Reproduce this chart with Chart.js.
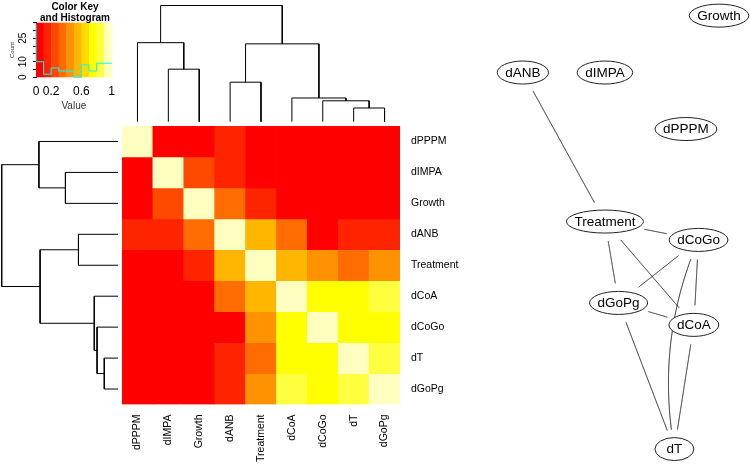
<!DOCTYPE html>
<html><head><meta charset="utf-8">
<script src="https://cdn.jsdelivr.net/npm/chart.js@4.4.0/dist/chart.umd.min.js"></script>
<style>
html,body{margin:0;padding:0;background:#fff;width:750px;height:466px;overflow:hidden;position:relative}
canvas{position:absolute;display:block}
</style></head><body>
<canvas id="key" width="120" height="114" style="left:0;top:0"></canvas>
<canvas id="colDendro" width="298" height="122" style="left:112px;top:0"></canvas>
<canvas id="rowDendro" width="118" height="299" style="left:0;top:116px"></canvas>
<canvas id="heat" width="360" height="340" style="left:122px;top:126px"></canvas>
<canvas id="net" width="270" height="466" style="left:480px;top:0"></canvas>
<script>
// ---------------- DATA ----------------
const variables = ['dPPPM','dIMPA','Growth','dANB','Treatment','dCoA','dCoGo','dT','dGoPg'];
const corrMatrix = [
  [1.00,0.04,0.02,0.13,0.05,0.03,0.06,0.02,0.04],
  [0.04,1.00,0.24,0.16,0.07,0.02,0.05,0.03,0.01],
  [0.02,0.24,1.00,0.35,0.12,0.08,0.06,0.04,0.09],
  [0.13,0.16,0.35,1.00,0.55,0.33,0.08,0.17,0.14],
  [0.05,0.07,0.12,0.55,1.00,0.53,0.44,0.36,0.45],
  [0.03,0.02,0.08,0.33,0.53,1.00,0.76,0.78,0.84],
  [0.06,0.05,0.06,0.08,0.44,0.76,1.00,0.73,0.77],
  [0.02,0.03,0.04,0.17,0.36,0.78,0.73,1.00,0.82],
  [0.04,0.01,0.09,0.14,0.45,0.84,0.77,0.82,1.00]
];
const colorBreaks = [0,0.1,0.2,0.3,0.4,0.5,0.6,0.7,0.8,0.9,1.0];
const heatPalette = ['#FF0000','#FF2400','#FF4900','#FF6D00','#FF9200','#FFB600','#FFDB00','#FFFF00','#FFFF40','#FFFFBF'];
const histCounts = [34,10,2,6,4,4,0,8,4,9];
const keyValueTicks = [0,0.2,0.6,1];
const keyCountTicks = [0,5,10,15,20,25,30,35];
const keyCountLabels = [0,10,25];
// hclust-style merges (negative = leaf index+1 in display order, positive = earlier merge)
const mergePairs = [[-8,-9],[-7,1],[-6,2],[-4,-5],[-2,-3],[4,3],[-1,5],[7,6]];
const mergeHeights = [0.118,0.18,0.204,0.34,0.452,0.67,0.68,1.0];
// network layout (layout units)
const nodeNames = ['Growth','dANB','dIMPA','dPPPM','Treatment','dCoGo','dGoPg','dCoA','dT'];
const nodeX = [6.64,1.19,3.47,5.72,3.47,6.07,3.85,5.94,5.40];
const nodeY = [12.51,10.93,10.93,9.36,6.79,6.28,4.53,3.92,0.47];
const edgeFrom  = ['dANB','Treatment','Treatment','Treatment','dCoGo','dCoGo','dCoGo','dGoPg','dGoPg','dCoA'];
const edgeTo    = ['Treatment','dCoGo','dGoPg','dCoA','dGoPg','dCoA','dT','dCoA','dT','dT'];
const edgeCurve = [0,0,0,0,0,0,0.15,0,0,0];

// ---------------- helpers ----------------
const FONT = '"Liberation Sans", Arial, Helvetica, sans-serif';
function heatColor(v){
  for(let i=0;i<heatPalette.length;i++){
    if(v>=colorBreaks[i]-1e-9 && v<colorBreaks[i+1]-1e-9) return heatPalette[i];
  }
  return heatPalette[heatPalette.length-1];
}
function dendroSegments(){
  const pos=[],hgt=[],segs=[];
  mergePairs.forEach(([a,b],i)=>{
    const pa=a<0?(-a-1):pos[a-1], ha=a<0?0:hgt[a-1];
    const pb=b<0?(-b-1):pos[b-1], hb=b<0?0:hgt[b-1];
    const h=mergeHeights[i];
    segs.push([[pa,ha],[pa,h],[pb,h],[pb,hb]]);
    pos[i]=(pa+pb)/2; hgt[i]=h;
  });
  return segs;
}
function noPad(s){s.paddingTop=0;s.paddingBottom=0;s.paddingLeft=0;s.paddingRight=0;}
const common = {responsive:false, animation:false, events:[],
  plugins:{legend:{display:false}, tooltip:{enabled:false}, title:{display:false}}};

// ---------------- Color key ----------------
const keyPlugin = {
  id:'keyBands',
  beforeDatasetsDraw(chart){
    const {ctx, chartArea:a, scales:{x}} = chart;
    ctx.save();
    for(let i=0;i<heatPalette.length;i++){
      const x0=x.getPixelForValue(colorBreaks[i]), x1=x.getPixelForValue(colorBreaks[i+1]);
      ctx.fillStyle=heatPalette[i];
      ctx.fillRect(x0,a.top,x1-x0+0.5,a.bottom-a.top);
    }
    ctx.restore();
  },
  afterDraw(chart){
    const {ctx, scales:{y}} = chart;
    ctx.save();
    ctx.fillStyle='#000';
    ctx.font='bold 10px '+FONT;
    ctx.textAlign='center'; ctx.textBaseline='alphabetic';
    ctx.fillText('Color Key',75,10);
    ctx.fillText('and Histogram',75,20.7);
    ctx.font='10px '+FONT;
    keyCountLabels.forEach(v=>{
      ctx.save(); ctx.translate(23,y.getPixelForValue(v)); ctx.rotate(-Math.PI/2);
      ctx.textAlign='center'; ctx.textBaseline='middle'; ctx.fillText(String(v),0,0); ctx.restore();
    });
    ctx.font='6px '+FONT; ctx.fillStyle='#333';
    ctx.save(); ctx.translate(12.5,50); ctx.rotate(-Math.PI/2);
    ctx.textAlign='center'; ctx.textBaseline='middle'; ctx.fillText('Count',0,0); ctx.restore();
    ctx.restore();
  }
};
const histPoints = histCounts.map((c,i)=>({x:colorBreaks[i],y:c}));
histPoints.push({x:colorBreaks[colorBreaks.length-1], y:histCounts[histCounts.length-1]});
new Chart(document.getElementById('key'),{
  type:'scatter',
  data:{datasets:[{data:histPoints, showLine:true, stepped:'after', borderColor:'#00FFFF', borderWidth:1, pointRadius:0, clip:false}]},
  options:{...common,
    layout:{autoPadding:false, padding:{left:0,top:22.7,right:8.3,bottom:0}},
    scales:{
      x:{type:'linear',min:0,max:1,
        afterBuildTicks(s){s.ticks=keyValueTicks.map(v=>({value:v}));},
        afterFit(s){s.height=36.7;noPad(s);},
        grid:{display:false,drawTicks:false}, border:{display:false},
        ticks:{padding:7,autoSkip:false,maxRotation:0,color:'#000',font:{family:FONT,size:12},callback:v=>String(v)},
        title:{display:true,text:'Value',color:'#333',font:{family:FONT,size:10},padding:{top:0,bottom:2}}},
      y:{type:'linear',min:0,max:35,
        afterBuildTicks(s){s.ticks=keyCountTicks.map(v=>({value:v}));},
        afterFit(s){s.width=36;noPad(s);},
        grid:{drawOnChartArea:false,drawTicks:true,tickLength:3,color:'#000'},
        border:{display:true,color:'#000'},
        ticks:{autoSkip:false,callback:()=>'' ,padding:0}}
    }},
  plugins:[keyPlugin]
});

// ---------------- Dendrograms ----------------
const segs = dendroSegments();
function dendroDatasets(swap){
  return segs.map(s=>({data:s.map(p=>swap?{x:p[1],y:p[0]}:{x:p[0],y:p[1]}),
    showLine:true,borderColor:'#000',borderWidth:1,pointRadius:0,clip:false,tension:0}));
}
new Chart(document.getElementById('colDendro'),{
  type:'scatter',
  data:{datasets:dendroDatasets(false)},
  options:{...common,
    layout:{autoPadding:false,padding:{left:10,right:10,top:5.5,bottom:0.3}},
    scales:{x:{type:'linear',min:-0.5,max:variables.length-0.5,display:false},
            y:{type:'linear',min:0,max:1,display:false}}}
});
new Chart(document.getElementById('rowDendro'),{
  type:'scatter',
  data:{datasets:dendroDatasets(true)},
  options:{...common,
    layout:{autoPadding:false,padding:{left:1.7,right:0,top:10,bottom:10.5}},
    scales:{x:{type:'linear',min:0,max:1,reverse:true,display:false},
            y:{type:'linear',min:-0.5,max:variables.length-0.5,reverse:true,display:false}}}
});

// ---------------- Heatmap ----------------
new Chart(document.getElementById('heat'),{
  type:'bar',
  data:{labels:variables,
    datasets:variables.map((rowName,r)=>({
      label:rowName,
      data:variables.map(()=>1),
      backgroundColor:corrMatrix[r].map(v=>heatColor(v)),
      borderWidth:0, barPercentage:1, categoryPercentage:1, yAxisID:'y'
    }))},
  options:{...common,
    layout:{autoPadding:false,padding:0},
    scales:{
      x:{type:'category',stacked:true,position:'bottom',
        grid:{display:false,drawTicks:false},border:{display:false},
        afterFit(s){s.height=61.5;noPad(s);},
        ticks:{minRotation:90,maxRotation:90,autoSkip:false,padding:10,color:'#000',font:{family:FONT,size:10.5}}},
      y:{type:'linear',stacked:true,min:0,max:variables.length,reverse:true,display:false,
        afterFit(s){noPad(s);}},
      rows:{type:'category',labels:variables,position:'right',offset:true,
        grid:{display:false,drawTicks:false},border:{display:false},
        afterFit(s){s.width=82;noPad(s);},
        ticks:{autoSkip:false,padding:11,color:'#000',font:{family:FONT,size:10.5}}}
    }}
});

// ---------------- Network ----------------
const netPlugin = {
  id:'netDraw',
  afterDatasetsDraw(chart){
    const {ctx, scales:{x,y}} = chart;
    ctx.save();
    ctx.font='13.5px '+FONT;
    const P={};
    nodeNames.forEach((n,i)=>{
      const tw=ctx.measureText(n).width;
      P[n]={x:x.getPixelForValue(nodeX[i]),y:y.getPixelForValue(nodeY[i]),rx:Math.max(19.5,tw/2+8),ry:11.5};
    });
    const inside=(px,py,nd)=>((px-nd.x)/(nd.rx+4))**2+((py-nd.y)/(nd.ry+8))**2<=1;
    ctx.strokeStyle='#111'; ctx.lineWidth=1;
    edgeFrom.forEach((f,k)=>{
      const A=P[f],B=P[edgeTo[k]],c=edgeCurve[k];
      const dx=B.x-A.x, dy=B.y-A.y;
      const C={x:(A.x+B.x)/2-c*dy, y:(A.y+B.y)/2+c*dx};
      const pt=t=>({x:(1-t)*(1-t)*A.x+2*t*(1-t)*C.x+t*t*B.x, y:(1-t)*(1-t)*A.y+2*t*(1-t)*C.y+t*t*B.y});
      const N=400; const pts=[];
      for(let i=0;i<=N;i++){const p=pt(i/N); if(!inside(p.x,p.y,A)&&!inside(p.x,p.y,B)) pts.push(p);}
      if(pts.length<2) return;
      ctx.beginPath(); ctx.moveTo(pts[0].x,pts[0].y);
      for(let i=1;i<pts.length;i++) ctx.lineTo(pts[i].x,pts[i].y);
      ctx.stroke();
    });
    nodeNames.forEach(n=>{
      const nd=P[n];
      ctx.beginPath(); ctx.ellipse(nd.x,nd.y,nd.rx,nd.ry,0,0,Math.PI*2);
      ctx.fillStyle='#fff'; ctx.fill(); ctx.strokeStyle='#222'; ctx.stroke();
      ctx.fillStyle='#000'; ctx.textAlign='center'; ctx.textBaseline='middle';
      ctx.fillText(n,nd.x,nd.y+0.5);
    });
    ctx.restore();
  }
};
new Chart(document.getElementById('net'),{
  type:'scatter',
  data:{datasets:[{data:nodeX.map((v,i)=>({x:v,y:nodeY[i]})),pointRadius:0}]},
  options:{...common,
    layout:{autoPadding:false,padding:0},
    scales:{x:{type:'linear',min:0,max:7.5,display:false},
            y:{type:'linear',min:0,max:466/36,display:false}}},
  plugins:[netPlugin]
});
</script>
</body></html>
